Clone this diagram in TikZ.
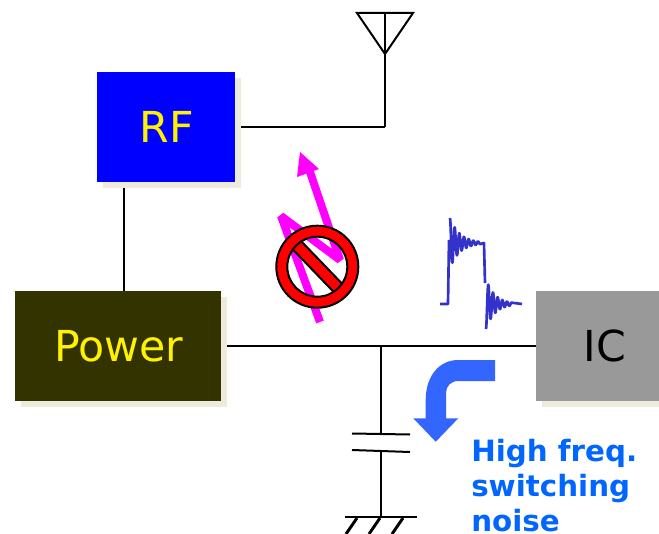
\documentclass[tikz,border=0pt]{standalone}
\usepackage{fontspec}
\setmainfont{DejaVu Sans}
\definecolor{shadowc}{HTML}{EFEBDC}
\definecolor{rfblue}{HTML}{0000FF}
\definecolor{powerc}{HTML}{333300}
\definecolor{icgray}{HTML}{999999}
\definecolor{pinkc}{HTML}{FF00FF}
\definecolor{wavec}{HTML}{3333CC}
\definecolor{arrowc}{HTML}{3366FF}
\definecolor{textblue}{HTML}{0066FF}
\tikzset{
  x=0.75pt,y=-0.75pt,
  wire/.style={draw=black,line width=1.5pt},
  boxnode/.style={draw=none,inner sep=0pt,font=\fontsize{32}{36}\selectfont},
  shadowbox/.style={draw=none,fill=shadowc,inner sep=0pt},
  pinkline/.style={draw=pinkc,line width=6pt,line join=bevel},
}
\begin{document}
\begin{tikzpicture}
\useasboundingbox (0,0) rectangle (659,534);
% shadows
\node[shadowbox,minimum width=103.5pt,minimum height=82.5pt] (rfs) at (172,133) {};
\node[shadowbox,minimum width=154.5pt,minimum height=82.5pt] (pws) at (124,352) {};
\node[shadowbox,minimum width=92.25pt,minimum height=82.5pt] (ics) at (603.5,352) {};
% boxes
\node[boxnode,fill=rfblue,text=yellow,minimum width=103.5pt,minimum height=82.5pt] (rf) at (166,127) {\raisebox{-1pt}{\hspace*{1.5pt}RF}};
\node[boxnode,fill=powerc,text=yellow,minimum width=154.5pt,minimum height=82.5pt] (power) at (118,346) {\raisebox{-2pt}{\hspace*{1.5pt}Power}};
\node[boxnode,fill=icgray,text=black,minimum width=92.25pt,minimum height=82.5pt] (ic) at (597.5,346) {\hspace*{11pt}\raisebox{-2pt}{IC}};
% antenna
\coordinate (anttip) at (385,54);
\coordinate (antl) at (357,13);
\coordinate (antr) at (413,13);
\coordinate (antt) at (385,13);
\coordinate (corner) at (385,127);
\draw[wire] (antl) -- (antr) -- (anttip) -- cycle;
\draw[wire] (antt) -- (corner);
\draw[wire] ([xshift=4.5pt]rf.east) -- (corner);
\coordinate (rfdrop) at (124,291);
\draw[wire] (rfs.south -| rfdrop) -- (rfdrop);
% power rail
\coordinate (junction) at (381,346);
\draw[wire] ([xshift=4.5pt]power.east) -- (ic.west);
% capacitor
\coordinate (capa) at (381,434);
\coordinate (capb) at (381,451);
\coordinate (gnd) at (381,517);
\draw[wire] (junction) -- (capa);
\draw[wire] (capb) -- (gnd);
\draw[wire] (352,433.5) -- (410,434.5);
\draw[wire] (352,450) -- (410,452);
\draw[line width=1.9pt] (345,517) -- (417,517);
\draw[line width=2.2pt] (357,518) -- (346,534);
\draw[line width=2.2pt] (380,518) -- (369,534);
\draw[line width=2.2pt] (403,518) -- (392,534);
% pink zigzag arrow
\draw[pinkline] (320,322) -- (281,216) -- (340,260) -- (310,172);
\fill[pinkc] (300,152) -- (319,169) -- (297,177) -- cycle;
% prohibition sign
\fill[red] (291.7,248.3) -- (300,240) -- (343.3,285) -- (335,293.3) -- cycle;
\draw[black,line width=1.5pt] (291.7,248.3) -- (335,293.3) (300,240) -- (343.3,285);
\draw[black,line width=1.5pt,fill=red,even odd rule]
  (317.3,266.7) circle[radius=41] (317.3,266.7) circle[radius=30];
% waveform
\draw[wavec,line width=2pt,line join=round]
  (440,304) -- (448,304) -- (449,240)
  plot[domain=0:30,samples=90,smooth] ({450+\x},{243-25*exp(-\x/10)*cos(\x*360/4.67)})
  -- (484,243) -- (485,283)
  plot[domain=0:26,samples=80,smooth] ({486+\x},{304+25*exp(-\x/9)*cos(\x*360/4.67)})
  -- (522,304);
% blue bent arrow
\fill[arrowc] (495,360) -- (495,381) -- (458.3,381)
  .. controls (451,381) and (446,386) .. (446,393)
  -- (446,418.3) -- (458.3,418.3) -- (435.7,441.7) -- (413.3,418.3) -- (425.7,418.3) -- (425.7,400)
  .. controls (425.7,375) and (440,360) .. (458.3,360) -- cycle;
% label
\node[anchor=base west,inner sep=0pt,text=textblue,font=\bfseries\fontsize{22}{26.25}\selectfont,align=left] (lbl) at (471,531) {High freq.\\switching\\noise};
\end{tikzpicture}
\end{document}
